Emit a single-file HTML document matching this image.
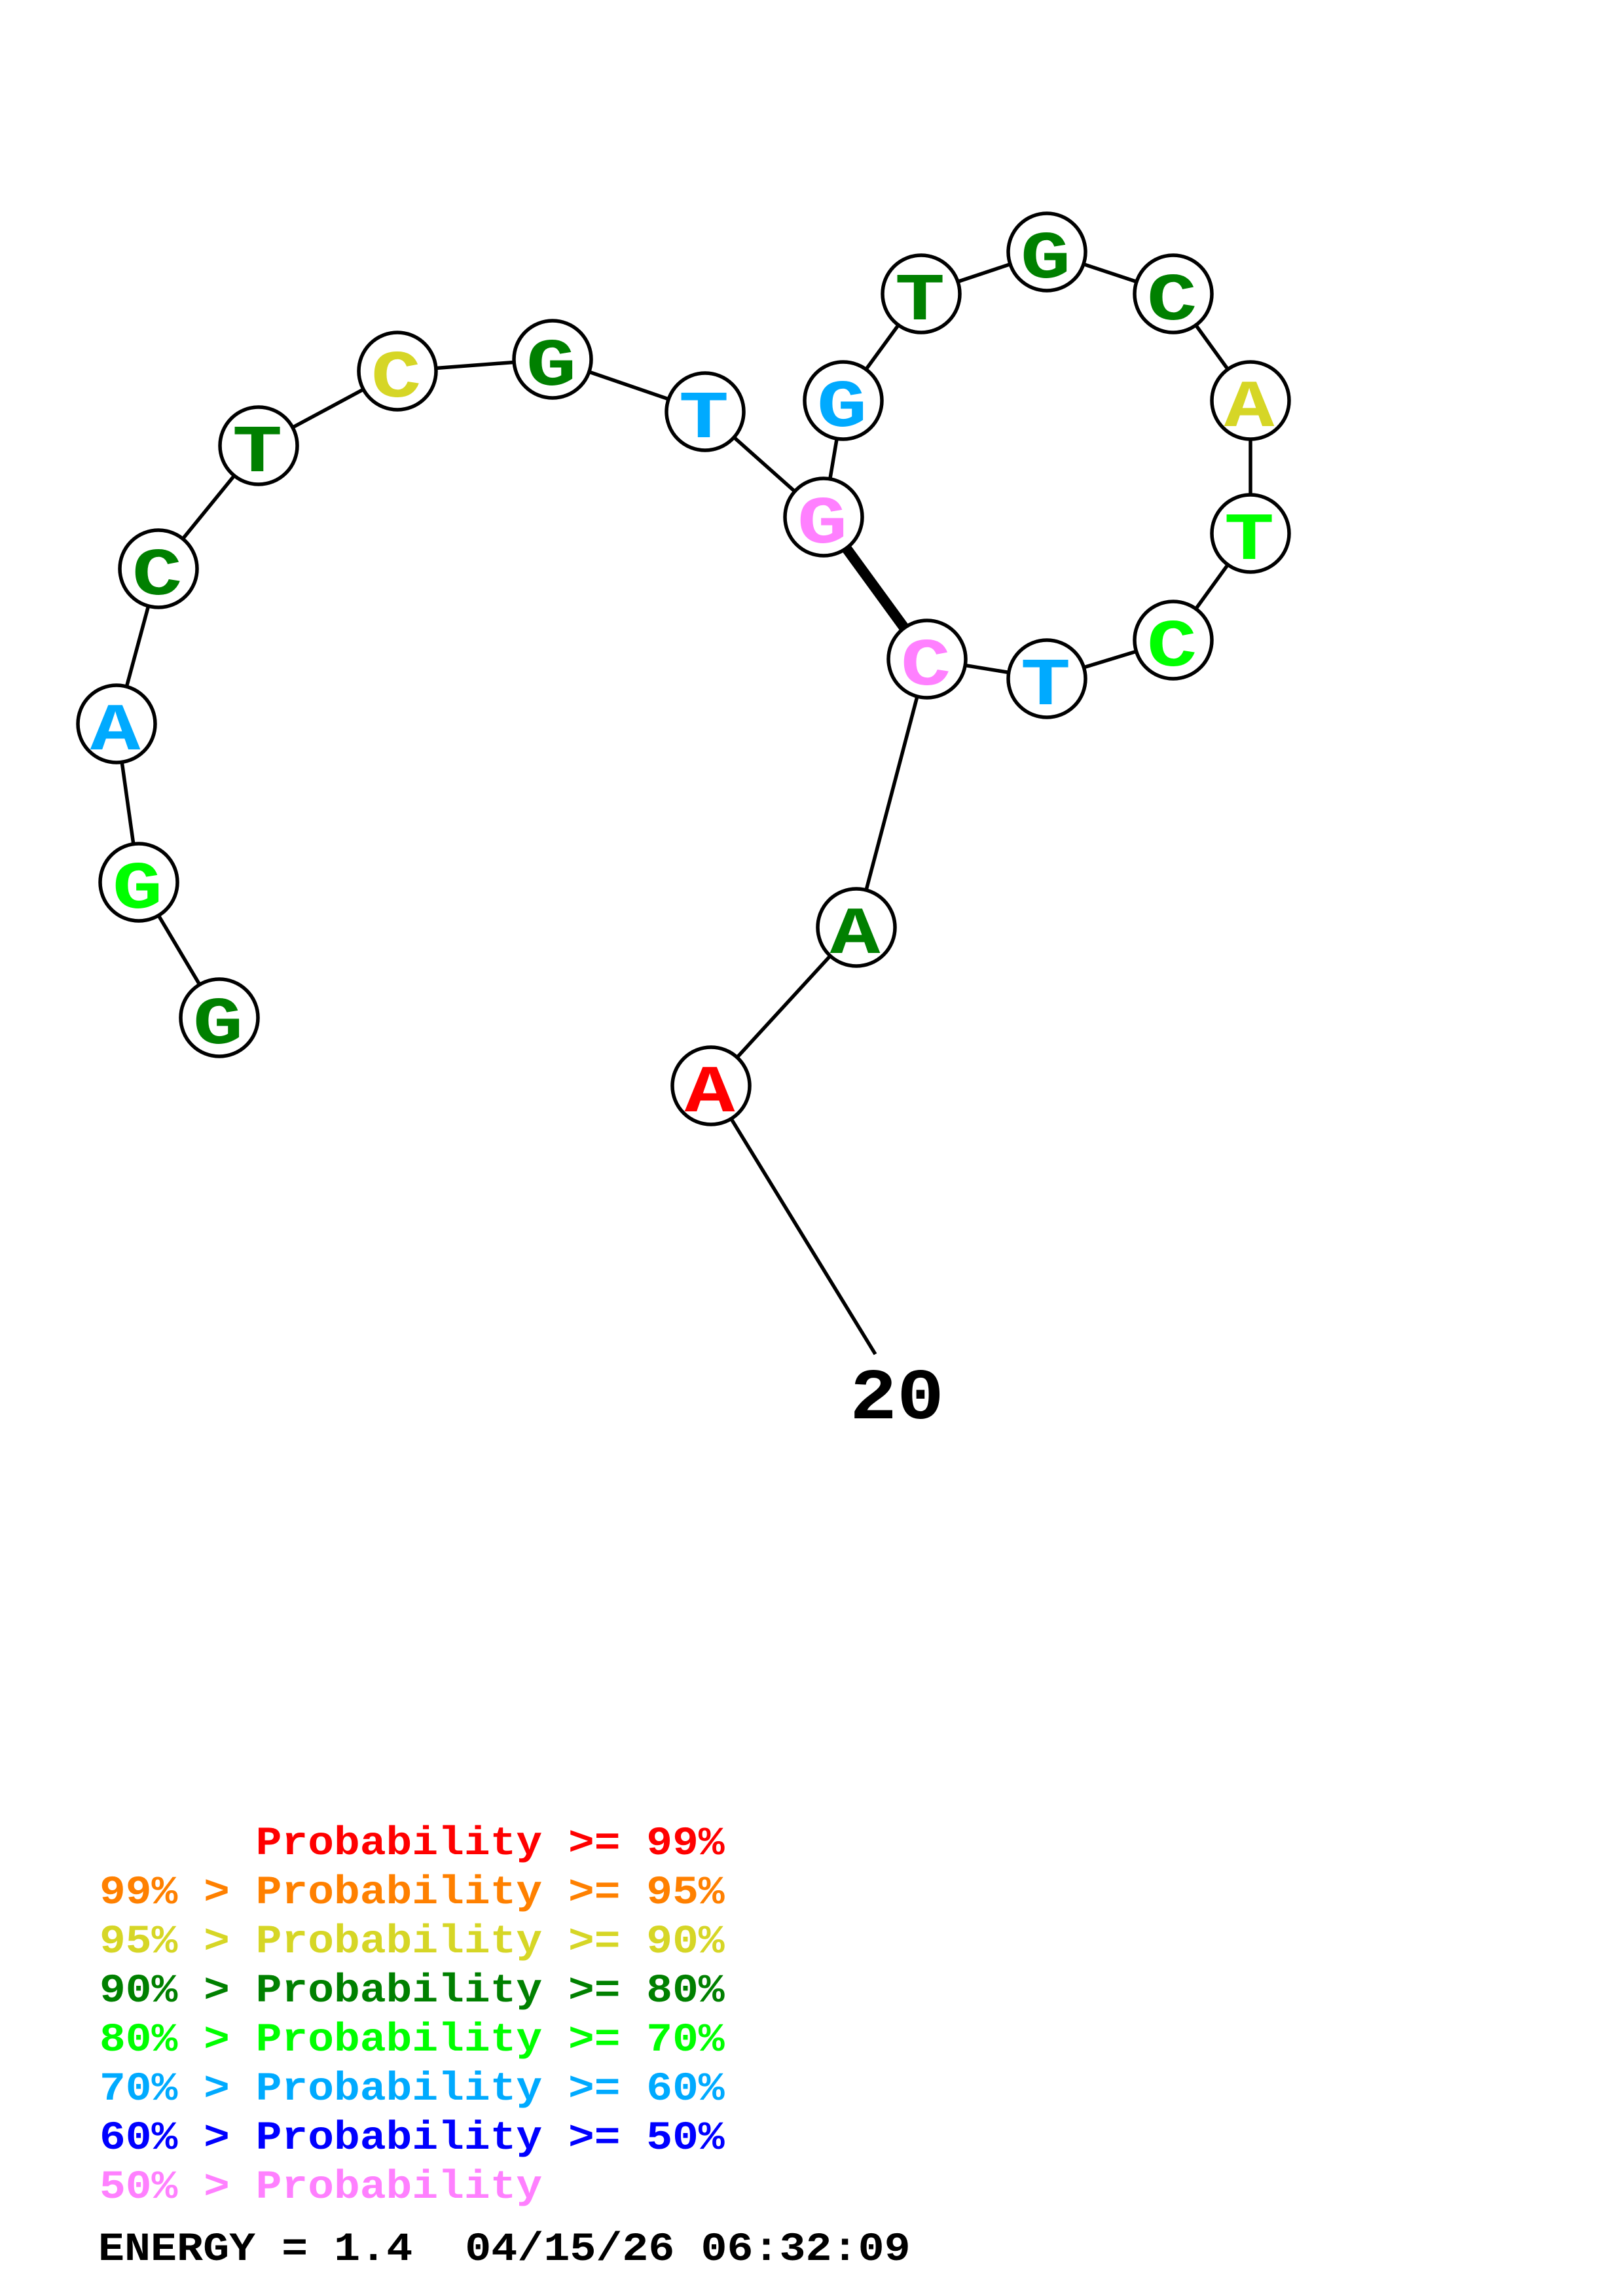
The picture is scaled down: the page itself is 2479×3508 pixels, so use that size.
<!DOCTYPE html>
<html><head><meta charset="utf-8"><style>
html,body{margin:0;padding:0;background:#fff}
svg{display:block}
text{font-family:"Liberation Mono","DejaVu Sans Mono",monospace;font-weight:700;white-space:pre}
.n{font-size:112px;text-anchor:middle}
.l{font-size:66.3px}
</style></head><body>
<svg xmlns="http://www.w3.org/2000/svg" width="2479" height="3508" viewBox="0 0 2479 3508">
<rect width="2479" height="3508" fill="#fff"/>
<g stroke="#000" stroke-width="5.5" fill="none">
<polyline points="335,1555 212,1348 178,1106 242,869 395,681 607,567 844,549 1077,629 1258,790 1288,612 1407,449 1599,385 1792,449 1910,612 1910,815 1792,978 1599,1037 1416,1007 1308,1417 1086,1659 1337,2069"/>
<line x1="1258" y1="790" x2="1416" y2="1007" stroke-width="16"/>
</g>
<g fill="#fff" stroke="#000" stroke-width="5.5">
<circle cx="335" cy="1555" r="59"/><circle cx="212" cy="1348" r="59"/><circle cx="178" cy="1106" r="59"/><circle cx="242" cy="869" r="59"/><circle cx="395" cy="681" r="59"/><circle cx="607" cy="567" r="59"/><circle cx="844" cy="549" r="59"/><circle cx="1077" cy="629" r="59"/><circle cx="1258" cy="790" r="59"/><circle cx="1288" cy="612" r="59"/><circle cx="1407" cy="449" r="59"/><circle cx="1599" cy="385" r="59"/><circle cx="1792" cy="449" r="59"/><circle cx="1910" cy="612" r="59"/><circle cx="1910" cy="815" r="59"/><circle cx="1792" cy="978" r="59"/><circle cx="1599" cy="1037" r="59"/><circle cx="1416" cy="1007" r="59"/><circle cx="1308" cy="1417" r="59"/><circle cx="1086" cy="1659" r="59"/>
</g>
<g>
<text class="n" transform="translate(333,1594) scale(1.14,.92)" fill="#008000">G</text>
<text class="n" transform="translate(210,1387) scale(1.14,.92)" fill="#00ff00">G</text>
<text class="n" transform="translate(176,1145) scale(1.14,.92)" fill="#00aaff">A</text>
<text class="n" transform="translate(240,908) scale(1.14,.92)" fill="#008000">C</text>
<text class="n" transform="translate(393,720) scale(1.14,.92)" fill="#008000">T</text>
<text class="n" transform="translate(605,606) scale(1.14,.92)" fill="#d6d626">C</text>
<text class="n" transform="translate(842,588) scale(1.14,.92)" fill="#008000">G</text>
<text class="n" transform="translate(1075,668) scale(1.14,.92)" fill="#00aaff">T</text>
<text class="n" transform="translate(1256,829) scale(1.14,.92)" fill="#ff80ff">G</text>
<text class="n" transform="translate(1286,651) scale(1.14,.92)" fill="#00aaff">G</text>
<text class="n" transform="translate(1405,488) scale(1.14,.92)" fill="#008000">T</text>
<text class="n" transform="translate(1597,424) scale(1.14,.92)" fill="#008000">G</text>
<text class="n" transform="translate(1790,488) scale(1.14,.92)" fill="#008000">C</text>
<text class="n" transform="translate(1908,651) scale(1.14,.92)" fill="#d6d626">A</text>
<text class="n" transform="translate(1908,854) scale(1.14,.92)" fill="#00ff00">T</text>
<text class="n" transform="translate(1790,1017) scale(1.14,.92)" fill="#00ff00">C</text>
<text class="n" transform="translate(1597,1076) scale(1.14,.92)" fill="#00aaff">T</text>
<text class="n" transform="translate(1414,1046) scale(1.14,.92)" fill="#ff80ff">C</text>
<text class="n" transform="translate(1306,1456) scale(1.14,.92)" fill="#008000">A</text>
<text class="n" transform="translate(1084,1698) scale(1.14,.92)" fill="#ff0000">A</text>
</g>
<text transform="translate(1298,2167) scale(1,.92)" font-size="120" fill="#000">20</text>
<g>
<text class="l" transform="translate(152,2833) scale(1,.92)" fill="#ff0000">      Probability &gt;= 99%</text>
<text class="l" transform="translate(152,2908) scale(1,.92)" fill="#ff8000">99% &gt; Probability &gt;= 95%</text>
<text class="l" transform="translate(152,2983) scale(1,.92)" fill="#d6d626">95% &gt; Probability &gt;= 90%</text>
<text class="l" transform="translate(152,3058) scale(1,.92)" fill="#008000">90% &gt; Probability &gt;= 80%</text>
<text class="l" transform="translate(152,3133) scale(1,.92)" fill="#00ff00">80% &gt; Probability &gt;= 70%</text>
<text class="l" transform="translate(152,3208) scale(1,.92)" fill="#00aaff">70% &gt; Probability &gt;= 60%</text>
<text class="l" transform="translate(152,3283) scale(1,.92)" fill="#0000ff">60% &gt; Probability &gt;= 50%</text>
<text class="l" transform="translate(152,3358) scale(1,.92)" fill="#ff80ff">50% &gt; Probability</text>
<text class="l" style="font-size:66.7px" transform="translate(150,3453) scale(1,.92)" fill="#000">ENERGY = 1.4  04/15/26 06:32:09</text>
</g>
</svg>
</body></html>
